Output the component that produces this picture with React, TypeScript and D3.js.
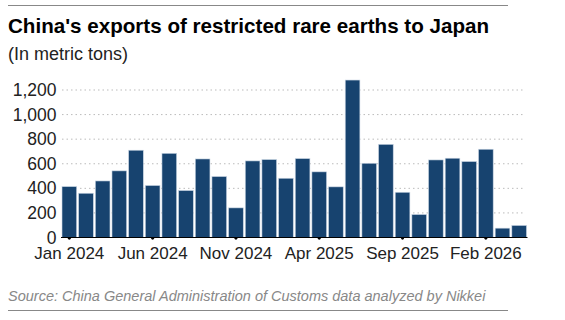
import React from "react";
import * as d3 from "d3";

const months = [
  "Jan 2024","Feb 2024","Mar 2024","Apr 2024","May 2024","Jun 2024","Jul 2024","Aug 2024","Sep 2024","Oct 2024","Nov 2024","Dec 2024",
  "Jan 2025","Feb 2025","Mar 2025","Apr 2025","May 2025","Jun 2025","Jul 2025","Aug 2025","Sep 2025","Oct 2025","Nov 2025","Dec 2025",
  "Jan 2026","Feb 2026","Mar 2026","Apr 2026",
];
const values = [
  414, 360, 460, 542, 710, 423, 685, 382, 639, 496, 241, 623,
  634, 482, 642, 534, 412, 1281, 604, 758, 368, 187, 631, 645,
  618, 718, 76, 98,
];
const xTickLabels = ["Jan 2024", "Jun 2024", "Nov 2024", "Apr 2025", "Sep 2025", "Feb 2026"];
const yTicks = [0, 200, 400, 600, 800, 1000, 1200];

const W = 565;
const H = 320;
const FONT = "'Liberation Sans', Arial, Helvetica, sans-serif";

export default function App() {
  const x = d3.scaleBand<string>().domain(months).range([61, 527.5]).paddingInner(0.12).paddingOuter(0.06);
  const y = d3.scaleLinear().domain([0, 1200]).range([237.5, 90]);
  const fmt = d3.format(",");
  return (
    <svg width={W} height={H} style={{ position: "absolute", left: 0, top: 0, background: "#fff" }} fontFamily={FONT}>
      <line x1={8} x2={508} y1={5.5} y2={5.5} stroke="#888" strokeWidth={1} />
      <text x={8} y={33} fontSize={20.6} fontWeight="bold" fill="#000">China's exports of restricted rare earths to Japan</text>
      <text x={8} y={60} fontSize={18} fill="#222">(In metric tons)</text>
      {yTicks.map((t) => (
        <g key={t}>
          {t > 0 && (
            <line x1={62} x2={524} y1={y(t)} y2={y(t)} stroke="#bbb" strokeWidth={1} strokeDasharray="1.5,3" />
          )}
          <text x={56.5} y={y(t)} dy="0.35em" textAnchor="end" fontSize={17.5} fill="#222">{fmt(t)}</text>
        </g>
      ))}
      {months.map((m, i) => (
        <rect key={m} x={x(m)} y={y(values[i])} width={x.bandwidth()} height={y(0) - y(values[i])}
          fill="#17436f" stroke="#c9d5e3" strokeWidth={0.6} />
      ))}
      <line x1={61} x2={527.5} y1={y(0)} y2={y(0)} stroke="#000" strokeWidth={1.2} />
      {xTickLabels.map((lab) => {
        const cx = (x(lab) as number) + x.bandwidth() / 2;
        return (
          <g key={lab}>
            <circle cx={cx} cy={y(0) + 0.8} r={1.4} fill="#000" />
            <text x={cx} y={259} textAnchor="middle" fontSize={17} fill="#222">{lab}</text>
          </g>
        );
      })}
      <text x={8} y={301} fontSize={14.5} fontStyle="italic" fill="#888">Source: China General Administration of Customs data analyzed by Nikkei</text>
      <line x1={8} x2={508} y1={310.5} y2={310.5} stroke="#888" strokeWidth={1} />
    </svg>
  );
}
